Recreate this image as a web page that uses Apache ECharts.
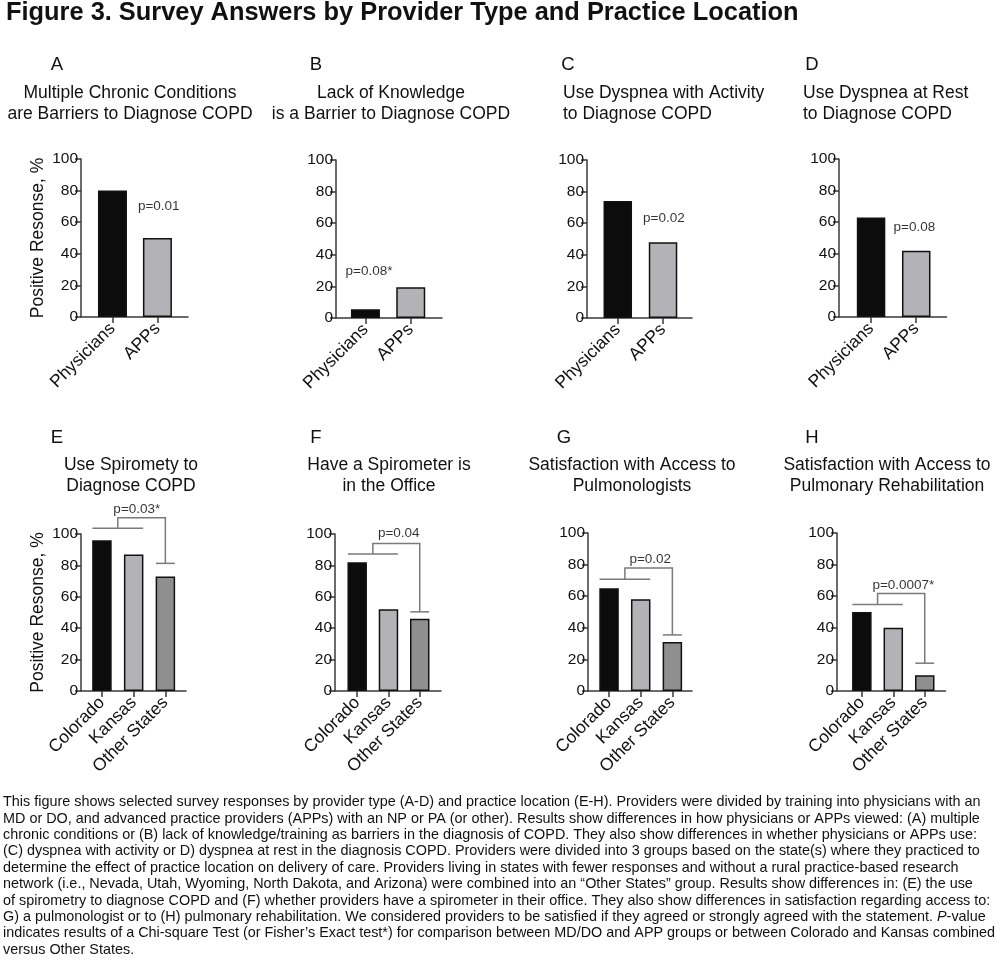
<!DOCTYPE html>
<html>
<head>
<meta charset="utf-8">
<script src="https://cdn.jsdelivr.net/npm/echarts@6/dist/echarts.min.js"></script>
<style>html,body{margin:0;padding:0;background:#fff;}#chart{width:1000px;height:965px;}</style>
</head>
<body>
<div id="chart"></div>
<script>
// ---- data ----
const providerCats = ['Physicians', 'APPs'];
const locationCats = ['Colorado', 'Kansas', 'Other States'];
const valuesA = [80, 50];
const valuesB = [5.5, 19.5];
const valuesC = [74, 48];
const valuesD = [63, 42];
const valuesE = [96, 87, 73];
const valuesF = [82, 52, 46];
const valuesG = [65, 58, 31];
const valuesH = [50, 40, 10];
const yTicks = [0, 20, 40, 60, 80, 100];
const pLabels = ['p=0.01', 'p=0.08*', 'p=0.02', 'p=0.08', 'p=0.03*', 'p=0.04', 'p=0.02', 'p=0.0007*'];
const pLabelX = [2.03, 1.08, 2.02, 1.96, 2.1, 2.33, 2.3, 2.32];
const pLabelY = [69.8, 29.8, 63, 56.6, 115.8, 100.6, 83.5, 67.1];
const bracketLow = [103.6, 87.2, 70.8, 54.7];
const bracketTop = [110.4, 94, 77.8, 61.7];
const bracketCap = [81.3, 50.4, 35.5, 17.6];
const panelLetters = ['A', 'B', 'C', 'D', 'E', 'F', 'G', 'H'];
const panelTitles = [
  ['Multiple Chronic Conditions', 'are Barriers to Diagnose COPD'],
  ['Lack of Knowledge', 'is a Barrier to Diagnose COPD'],
  ['Use Dyspnea with Activity', 'to Diagnose COPD'],
  ['Use Dyspnea at Rest', 'to Diagnose COPD'],
  ['Use Spiromety to', 'Diagnose COPD'],
  ['Have a Spirometer is', 'in the Office'],
  ['Satisfaction with Access to', 'Pulmonologists'],
  ['Satisfaction with Access to', 'Pulmonary Rehabilitation']
];
const yAxisName = 'Positive Resonse, %';
const mainTitle = 'Figure 3. Survey Answers by Provider Type and Practice Location';
const captionLines = [
  'This figure shows selected survey responses by provider type (A-D) and practice location (E-H). Providers were divided by training into physicians with an',
  'MD or DO, and advanced practice providers (APPs) with an NP or PA (or other). Results show differences in how physicians or APPs viewed: (A) multiple',
  'chronic conditions or (B) lack of knowledge/training as barriers in the diagnosis of COPD. They also show differences in whether physicians or APPs use:',
  '(C) dyspnea with activity or D) dyspnea at rest in the diagnosis COPD. Providers were divided into 3 groups based on the state(s) where they practiced to',
  'determine the effect of practice location on delivery of care. Providers living in states with fewer responses and without a rural practice-based research',
  'network (i.e., Nevada, Utah, Wyoming, North Dakota, and Arizona) were combined into an \u201cOther States\u201d group. Results show differences in: (E) the use',
  'of spirometry to diagnose COPD and (F) whether providers have a spirometer in their office. They also show differences in satisfaction regarding access to:',
  'G) a pulmonologist or to (H) pulmonary rehabilitation. We considered providers to be satisfied if they agreed or strongly agreed with the statement. {i|P}-value',
  'indicates results of a Chi-square Test (or Fisher\u2019s Exact test*) for comparison between MD/DO and APP groups or between Colorado and Kansas combined',
  'versus Other States.'
];

// ---- layout / style ----
const FONT = '"Liberation Sans", Arial, Helvetica, sans-serif';
const barColors = ['#0c0c0c', '#b3b3b7', '#8f8f8f'];
const panels = [
  {vals: valuesA, cats: providerCats, left: 81, top: 159, width: 107, height: 158, min: 0.30, max: 2.68, bw: 29, letter: [57, 65], title: [130, 'center']},
  {vals: valuesB, cats: providerCats, left: 336, top: 160, width: 106, height: 158, min: 0.35, max: 2.69, bw: 29, letter: [316, 65], title: [391, 'center']},
  {vals: valuesC, cats: providerCats, left: 587, top: 160, width: 105, height: 158, min: 0.32, max: 2.64, bw: 28.5, letter: [568, 65], title: [563, 'left']},
  {vals: valuesD, cats: providerCats, left: 839, top: 159, width: 107.5, height: 158, min: 0.29, max: 2.67, bw: 28.5, letter: [812, 65], title: [803, 'left']},
  {vals: valuesE, cats: locationCats, left: 81, top: 534, width: 105, height: 157, min: 0.34, max: 3.65, bw: 19.5, letter: [57, 438], title: [131, 'center']},
  {vals: valuesF, cats: locationCats, left: 335, top: 534, width: 106, height: 157, min: 0.29, max: 3.68, bw: 19.5, letter: [316, 438], title: [389, 'center']},
  {vals: valuesG, cats: locationCats, left: 588, top: 533, width: 104, height: 158, min: 0.335, max: 3.62, bw: 19.5, letter: [564, 438], title: [632, 'center']},
  {vals: valuesH, cats: locationCats, left: 837, top: 533, width: 108.5, height: 158, min: 0.21, max: 3.66, bw: 19.5, letter: [812, 438], title: [887, 'center']}
];

const grids = [], xAxes = [], yAxes = [], series = [], graphics = [];
panels.forEach((p, i) => {
  grids.push({left: p.left, top: p.top, width: p.width, height: p.height, containLabel: false});
  const positions = p.cats.map((c, k) => k + 1);
  xAxes.push({
    type: 'value', gridIndex: i, min: p.min, max: p.max,
    splitLine: {show: false},
    axisLine: {show: true, onZero: false, lineStyle: {color: '#3a3a3a', width: 1.5}},
    axisTick: {show: true, customValues: positions, length: 6, lineStyle: {color: '#3a3a3a', width: 1.5}},
    axisLabel: {show: true, customValues: positions, rotate: 45, margin: 9, fontSize: 17.5, fontFamily: FONT, color: '#111',
      formatter: v => p.cats[Math.round(v) - 1] || ''}
  });
  yAxes.push({
    type: 'value', gridIndex: i, min: yTicks[0], max: yTicks[yTicks.length - 1], interval: yTicks[1] - yTicks[0],
    splitLine: {show: false},
    axisLine: {show: true, lineStyle: {color: '#3a3a3a', width: 1.5}},
    axisTick: {show: true, length: 6, lineStyle: {color: '#3a3a3a', width: 1.5}},
    axisLabel: {fontSize: 15.5, fontFamily: FONT, color: '#111', margin: 3},
    name: (i === 0 || i === 4) ? yAxisName : '',
    nameLocation: 'middle', nameRotate: 90, nameGap: 34,
    nameTextStyle: {fontSize: 17.5, fontFamily: FONT, color: '#111'}
  });
  series.push({
    type: 'bar', xAxisIndex: i, yAxisIndex: i, barWidth: p.bw, silent: true,
    data: p.vals.map((v, k) => ({value: [positions[k], v], itemStyle: {color: barColors[k]}})),
    itemStyle: {borderColor: '#111', borderWidth: 1.5}
  });
  series.push({
    type: 'scatter', xAxisIndex: i, yAxisIndex: i, clip: false, silent: true,
    symbolSize: 1, itemStyle: {color: 'rgba(0,0,0,0)'},
    data: [{name: pLabels[i], value: [pLabelX[i], pLabelY[i]]}],
    label: {show: true, position: 'inside', formatter: '{b}', fontSize: 13.5, fontFamily: FONT, color: '#000'}
  });
  if (i >= 4) {
    const b = i - 4;
    const half = 0.3;
    series.push({
      type: 'lines', coordinateSystem: 'cartesian2d', xAxisIndex: i, yAxisIndex: i,
      polyline: true, clip: false, silent: true,
      lineStyle: {color: '#7a7a7a', width: 1.5, opacity: 1},
      data: [
        {coords: [[1 - half, bracketLow[b]], [2 + half, bracketLow[b]]]},
        {coords: [[1.5, bracketLow[b]], [1.5, bracketTop[b]], [3, bracketTop[b]], [3, bracketCap[b]]]},
        {coords: [[3 - half, bracketCap[b]], [3 + half, bracketCap[b]]]}
      ]
    });
  }
  graphics.push({type: 'text', x: p.letter[0], y: p.letter[1],
    style: {text: panelLetters[i], font: '18.5px ' + FONT, fill: '#111', align: 'center', verticalAlign: 'middle'}});
  const ty = i < 4 ? 93 : 465;
  panelTitles[i].forEach((t, k) => {
    graphics.push({type: 'text', x: p.title[0], y: ty + k * 21.5,
      style: {text: t, font: '17.5px ' + FONT, fill: '#111', align: p.title[1], verticalAlign: 'middle'}});
  });
});

graphics.push({type: 'text', x: 6, y: 13,
  style: {text: mainTitle, font: 'bold 25.4px ' + FONT, fill: '#111', align: 'left', verticalAlign: 'middle'}});
graphics.push({type: 'text', x: 3, y: 794,
  style: {text: captionLines.join('\n'), font: '14.4px ' + FONT, fill: '#111', align: 'left', verticalAlign: 'top', lineHeight: 16.4,
    rich: {i: {fontStyle: 'italic', fontSize: 14.4, fontFamily: FONT, lineHeight: 16.4, fill: '#111'}}}});

const chart = echarts.init(document.getElementById('chart'), null, {renderer: 'canvas'});
chart.setOption({
  backgroundColor: '#fff',
  animation: false,
  grid: grids, xAxis: xAxes, yAxis: yAxes, series: series,
  graphic: graphics
});
</script>
</body>
</html>
